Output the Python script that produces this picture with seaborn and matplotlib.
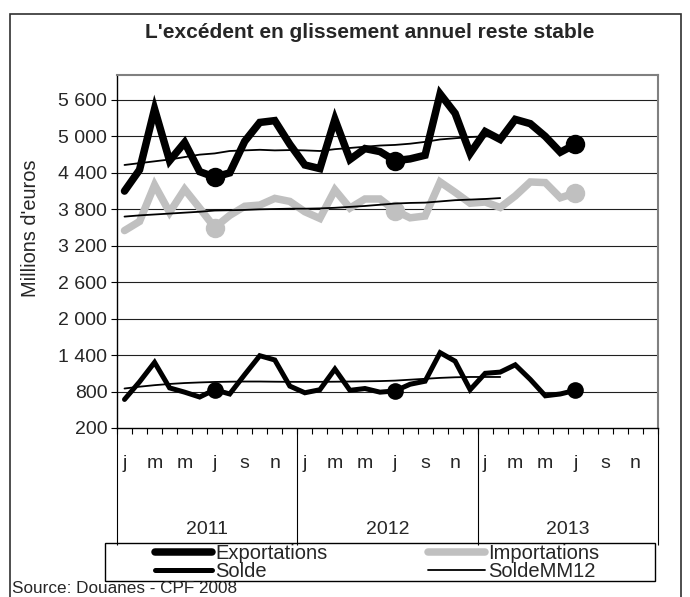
import numpy as np
import matplotlib
matplotlib.use("Agg")
import matplotlib.pyplot as plt
from matplotlib.lines import Line2D
from matplotlib.patches import Rectangle
import seaborn as sns

# Data (millions d'euros), monthly from January 2011
month_initials = ["j", "f", "m", "a", "m", "j", "j", "a", "s", "o", "n", "d"]
years = ["2011", "2012", "2013"]

exportations = [4100, 4450, 5450, 4600, 4900, 4420, 4330, 4400, 4920, 5230, 5260, 4870,
                4530, 4470, 5280, 4620, 4800, 4750, 4600, 4630, 4690, 5700, 5380, 4720,
                5080, 4950, 5280, 5210, 5000, 4740, 4870]
importations = [3450, 3600, 4200, 3750, 4130, 3820, 3500, 3700, 3850, 3870, 3980, 3930,
                3760, 3650, 4120, 3820, 3970, 3970, 3780, 3660, 3690, 4250, 4080, 3900,
                3920, 3830, 4020, 4250, 4240, 3990, 4070]
solde = [670, 960, 1280, 860, 790, 710, 830, 760, 1080, 1390, 1320, 890,
         780, 830, 1170, 820, 850, 790, 810, 920, 970, 1440, 1300, 830,
         1100, 1120, 1240, 1000, 730, 760, 820]
export_mm12 = [4530, 4560, 4590, 4620, 4660, 4700, 4720, 4760, 4770, 4780, 4770, 4775,
               4770, 4760, 4790, 4810, 4830, 4850, 4860, 4880, 4910, 4950, 4970, 4990,
               5000, 5010]
import_mm12 = [3680, 3700, 3715, 3730, 3745, 3760, 3780, 3785, 3790, 3800, 3805, 3810,
               3810, 3815, 3825, 3840, 3855, 3875, 3895, 3905, 3910, 3930, 3950, 3960,
               3970, 3985]
solde_mm12 = [850, 880, 905, 925, 940, 950, 958, 962, 965, 965, 962, 960,
              960, 960, 962, 965, 968, 972, 980, 995, 1010, 1025, 1035, 1040,
              1040, 1040]

y_ticks = [200, 800, 1400, 2000, 2600, 3200, 3800, 4400, 5000, 5600]
marked = [6, 18, 30]  # juillet de chaque annee

sns.set_style("white")
plt.rcParams["font.family"] = ["Liberation Sans", "DejaVu Sans"]

W, H = 690, 597
fig = plt.figure(figsize=(W / 100, H / 100), dpi=100)

# plot area in pixels: x 117..658, y 75..428
ax = fig.add_axes([117 / W, 1 - 428 / H, (658 - 117) / W, (428 - 75) / H])

n_months = len(month_initials) * len(years)
x_full = np.arange(len(exportations)) + 0.5
x_mm = np.arange(len(export_mm12)) + 0.5

grey = "#c0c0c0"
fs = 14

sns.lineplot(x=x_full, y=exportations, ax=ax, color="black", lw=5.4,
             marker="o", markersize=14, markevery=marked, markeredgewidth=0,
             solid_joinstyle="miter", zorder=3)
sns.lineplot(x=x_full, y=importations, ax=ax, color=grey, lw=5.4,
             marker="o", markersize=14, markevery=marked, markeredgewidth=0,
             solid_joinstyle="miter", zorder=2)
sns.lineplot(x=x_full, y=solde, ax=ax, color="black", lw=3.6,
             marker="o", markersize=12, markevery=marked, markeredgewidth=0,
             solid_joinstyle="miter", zorder=3)
for s in (export_mm12, import_mm12, solde_mm12):
    sns.lineplot(x=x_mm, y=s, ax=ax, color="black", lw=1.3, zorder=4)

ax.set_xlim(0, n_months)
ax.set_ylim(200, 6011)

# y axis
ax.set_yticks(y_ticks)
ax.set_yticklabels([f"{v:,}".replace(",", " ") for v in y_ticks], fontsize=fs)
ax.tick_params(axis="y", direction="out", length=4, width=0.8, color="black",
               pad=3, left=True)
for v in y_ticks[1:]:
    ax.axhline(v, color="#202020", lw=0.8, zorder=1)

# x axis: month labels every second month, ticks at each month boundary
ax.set_xticks(np.arange(0, n_months, 2) + 0.5)
ax.set_xticklabels([month_initials[i % 12] for i in range(0, n_months, 2)], fontsize=fs)
ax.set_xticks(np.arange(0, n_months + 1), minor=True)
ax.tick_params(axis="x", which="major", length=0, pad=19.5)
ax.tick_params(axis="x", which="minor", direction="out", length=4, width=0.8,
               color="black", bottom=True)

# years: long separators and centred labels
sec = ax.secondary_xaxis("bottom")
sec.set_xticks(np.arange(0, n_months + 1, 12))
sec.set_xticklabels([""] * (len(years) + 1))
sec.set_xticks(np.arange(6, n_months, 12), minor=True)
sec.set_xticklabels(years, minor=True, fontsize=fs)
sec.tick_params(axis="x", which="major", direction="out", length=84, width=0.8,
                color="black")
sec.tick_params(axis="x", which="minor", length=0, pad=67)
sec.spines["bottom"].set_visible(False)

for side in ("left", "bottom"):
    ax.spines[side].set_color("black")
    ax.spines[side].set_linewidth(1.0)
for side in ("top", "right"):
    ax.spines[side].set_color("#808080")
    ax.spines[side].set_linewidth(1.5)

ax.set_ylabel("")
fig.text(30 / W, 1 - 228 / H, "Millions d'euros", rotation=90, fontsize=14.4,
         ha="center", va="center")

fig.text(370 / W, 1 - 33 / H, "L'excédent en glissement annuel reste stable",
         fontsize=15, fontweight="bold", ha="center", va="center")

# outer chart frame
fig.patches.append(Rectangle((10 / W, -0.05), (681 - 10) / W, 1 - 14 / H + 0.05,
                             transform=fig.transFigure, fill=False,
                             edgecolor="#303030", lw=1.2))

# legend frame + legend
fig.patches.append(Rectangle((105 / W, 1 - 581 / H), (655 - 105) / W, (581 - 543) / H,
                             transform=fig.transFigure, fill=False,
                             edgecolor="black", lw=1.0))
handles = [
    Line2D([], [], color="black", lw=5.4, solid_capstyle="round"),
    Line2D([], [], color="black", lw=3.6, solid_capstyle="round"),
    Line2D([], [], color=grey, lw=5.4, solid_capstyle="round"),
    Line2D([], [], color="black", lw=1.3),
]
labels = ["Exportations", "Solde", "Importations", "SoldeMM12"]
fig.legend(handles, labels, ncol=2, loc="center",
           bbox_to_anchor=(377 / W, 1 - 562.5 / H), frameon=False,
           fontsize=14.5, handlelength=2.83, handletextpad=0.15,
           columnspacing=5.0, labelspacing=-0.05, borderpad=0.1)

fig.text(12 / W, 1 - 588.5 / H, "Source: Douanes - CPF 2008", fontsize=12.3,
         ha="left", va="center")

fig.savefig("out.png", dpi=100)
